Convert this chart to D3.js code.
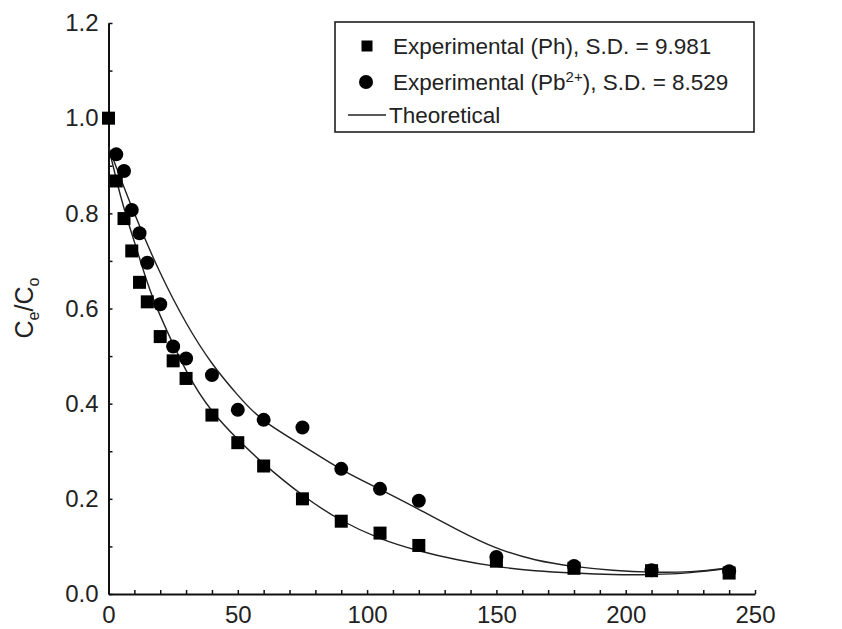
<!DOCTYPE html>

<head>
<meta charset="utf-8">
<title>Ce/Co vs time</title>
<script type="text/javascript" src="https://d3js.org/d3.v7.min.js"></script>
<style>
body { margin: 0; background: #fff; }
svg text { font-family: "Liberation Sans", Arial, sans-serif; fill: #222; }
.axis path, .axis line { stroke: #111; }
</style>
</head>

<body>
<div id="container"></div>
<script>
//-----------------------------DATA-----------------------------//
// experimental points, Ph (squares)
const phTime   = [0, 3, 6, 9, 12, 15, 20, 25, 30, 40, 50, 60, 75, 90, 105, 120, 150, 180, 210, 240];
const phValues = [1.0, 0.868, 0.789, 0.721, 0.655, 0.614, 0.541, 0.490, 0.453, 0.376, 0.318, 0.269,
                  0.200, 0.153, 0.128, 0.102, 0.069, 0.054, 0.049, 0.044];
// experimental points, Pb2+ (circles)
const pbTime   = [3, 6, 9, 12, 15, 20, 25, 30, 40, 50, 60, 75, 90, 105, 120, 150, 180, 210, 240];
const pbValues = [0.924, 0.889, 0.807, 0.758, 0.696, 0.609, 0.520, 0.495, 0.460, 0.387, 0.366,
                  0.350, 0.263, 0.221, 0.196, 0.078, 0.059, 0.050, 0.048];
// theoretical curves
const phFitTime   = [0, 5, 10, 15, 20, 30, 40, 50, 60, 75, 90, 105, 120, 135, 150, 165, 180, 195, 210, 225, 240];
const phFitValues = [0.94, 0.83, 0.74, 0.655, 0.585, 0.47, 0.385, 0.325, 0.274, 0.208, 0.155, 0.117,
                     0.091, 0.072, 0.058, 0.049, 0.044, 0.041, 0.041, 0.045, 0.054];
const pbFitTime   = [0, 10, 20, 30, 40, 50, 60, 75, 90, 105, 120, 135, 150, 165, 180, 195, 210, 225, 240];
const pbFitValues = [0.94, 0.80, 0.675, 0.570, 0.485, 0.418, 0.365, 0.312, 0.262, 0.220, 0.178,
                     0.135, 0.097, 0.072, 0.058, 0.050, 0.046, 0.047, 0.055];
// ticks
const xTicks = [0, 50, 100, 150, 200, 250];
const yTicks = [0, 0.2, 0.4, 0.6, 0.8, 1.0, 1.2];
const xMinor = d3.range(0, 251, 10);
const yMinor = d3.range(13).map(i => i / 10);

//-----------------------------SVG------------------------------//
const width = 842;
const height = 629;
const svg = d3.select("div#container").append("svg")
    .attr("width", width)
    .attr("height", height);

//----------------------------SCALES----------------------------//
const x = d3.scaleLinear().domain([0, 250]).range([108.5, 755]);
const y = d3.scaleLinear().domain([0, 1.2]).range([594, 23]);

//-----------------------------AXES-----------------------------//
const xaxis = d3.axisBottom(x)
    .tickValues(xMinor)
    .tickSize(-4)
    .tickSizeOuter(0)
    .tickPadding(12)
    .tickFormat(d => xTicks.includes(d) ? d : "");

const yaxis = d3.axisLeft(y)
    .tickValues(yMinor)
    .tickSize(-4)
    .tickSizeOuter(0)
    .tickPadding(10)
    .tickFormat(d => yTicks.some(t => Math.abs(t - d) < 1e-9) ? d3.format(".1f")(d) : "");

const gx = svg.append("g")
    .attr("class", "axis")
    .attr("transform", "translate(0," + y(0) + ")")
    .call(xaxis);

const gy = svg.append("g")
    .attr("class", "axis")
    .attr("transform", "translate(" + x(0) + ",0)")
    .call(yaxis);

[gx, gy].forEach(g => {
  g.select(".domain").attr("stroke-width", 2);
  g.selectAll(".tick line").attr("stroke-width", 1.5);
  g.selectAll(".tick text").style("font-size", "24px").attr("fill", "#222");
});

// y title: Ce/Co
const ytitle = svg.append("text")
    .attr("transform", "translate(33,308) rotate(-90)")
    .attr("text-anchor", "middle")
    .style("font-size", "25px");
ytitle.append("tspan").text("C");
ytitle.append("tspan").attr("dy", 6).style("font-size", "16px").text("e");
ytitle.append("tspan").attr("dy", -6).text("/C");
ytitle.append("tspan").attr("dy", 6).style("font-size", "16px").text("o");

//----------------------------LINES-----------------------------//
const line = d3.line()
    .x(d => x(d[0]))
    .y(d => y(d[1]))
    .curve(d3.curveNatural);

[[phFitTime, phFitValues], [pbFitTime, pbFitValues]].forEach(function(s) {
  svg.append("path")
      .attr("d", line(d3.zip(s[0], s[1])))
      .attr("fill", "none")
      .attr("stroke", "#222")
      .attr("stroke-width", 1.4);
});

//---------------------------MARKERS----------------------------//
svg.append("g").selectAll("circle")
    .data(d3.zip(pbTime, pbValues))
    .enter().append("circle")
    .attr("cx", d => x(d[0]))
    .attr("cy", d => y(d[1]))
    .attr("r", 7)
    .attr("fill", "#000");

const sq = 13;
svg.append("g").selectAll("rect")
    .data(d3.zip(phTime, phValues))
    .enter().append("rect")
    .attr("x", d => x(d[0]) - sq / 2)
    .attr("y", d => y(d[1]) - sq / 2)
    .attr("width", sq)
    .attr("height", sq)
    .attr("fill", "#000");

//----------------------------LEGEND----------------------------//
const legend = svg.append("g").style("font-size", "22.5px");
legend.append("rect")
    .attr("x", 335).attr("y", 22)
    .attr("width", 419).attr("height", 110)
    .attr("fill", "#fff")
    .attr("stroke", "#111")
    .attr("stroke-width", 1.5);

legend.append("rect")
    .attr("x", 361.5).attr("y", 40.5)
    .attr("width", 11).attr("height", 11)
    .attr("fill", "#000");
legend.append("text")
    .attr("x", 393).attr("y", 54)
    .text("Experimental (Ph), S.D. = 9.981");

legend.append("circle")
    .attr("cx", 366).attr("cy", 82)
    .attr("r", 7)
    .attr("fill", "#000");
const t2 = legend.append("text")
    .attr("x", 393).attr("y", 90);
t2.append("tspan").text("Experimental (Pb");
t2.append("tspan").attr("dy", -8).style("font-size", "15px").text("2+");
t2.append("tspan").attr("dy", 8).text("), S.D. = 8.529");

legend.append("line")
    .attr("x1", 348).attr("x2", 386)
    .attr("y1", 115).attr("y2", 115)
    .attr("stroke", "#222")
    .attr("stroke-width", 1.4);
legend.append("text")
    .attr("x", 389).attr("y", 123)
    .text("Theoretical");
</script>
</body>
